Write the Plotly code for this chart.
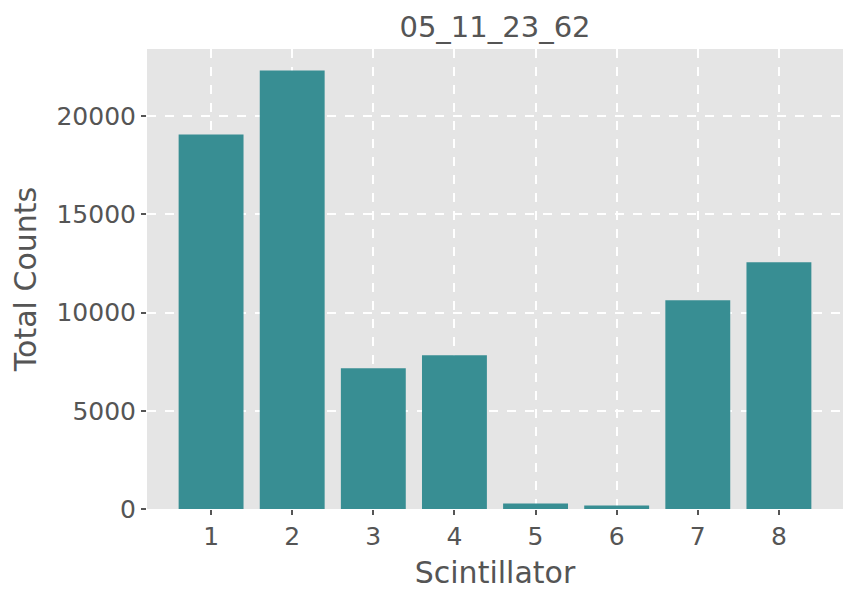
import plotly.graph_objects as go

scintillators = [1, 2, 3, 4, 5, 6, 7, 8]
total_counts = [19070, 22320, 7170, 7830, 280, 180, 10630, 12560]
y_ticks = [0, 5000, 10000, 15000, 20000]
y_tick_labels = ['0', '5000', '10000', '15000', '20000']

TEXT = '#555555'
FONT = 'DejaVu Sans'

fig = go.Figure(
    data=[
        go.Bar(
            x=scintillators,
            y=total_counts,
            width=0.8,
            marker_color='#388E93',
            marker_line_width=0,
        )
    ]
)

# page body has an 8px margin, so margins are shifted to compensate
fig.update_layout(
    width=858,
    height=601,
    margin=dict(l=139, r=23, t=41, b=100),
    paper_bgcolor='white',
    plot_bgcolor='#E5E5E5',
    font=dict(family=FONT, color=TEXT),
    showlegend=False,
    title=dict(
        text='05_11_23_62',
        font=dict(size=29, color=TEXT),
        x=0.5, xref='paper', xanchor='center',
        y=1 - 19 / 601, yref='container', yanchor='middle',
    ),
)

fig.update_xaxes(
    range=[0.21, 8.79],
    tickmode='array',
    tickvals=scintillators,
    ticks='outside', ticklen=5, tickwidth=1.5, tickcolor=TEXT,
    tickfont=dict(size=25, color=TEXT),
    showgrid=True, gridcolor='white', gridwidth=1.5, griddash='dash',
    zeroline=False, showline=False,
    title=dict(text='Scintillator', font=dict(size=30, color=TEXT), standoff=11),
)

fig.update_yaxes(
    range=[0, 23420],
    tickmode='array',
    tickvals=y_ticks,
    ticktext=y_tick_labels,
    ticks='outside', ticklen=5, tickwidth=1.5, tickcolor=TEXT,
    tickfont=dict(size=25, color=TEXT),
    showgrid=True, gridcolor='white', gridwidth=1.5, griddash='dash',
    zeroline=False, showline=False,
    title=dict(text='Total Counts', font=dict(size=30, color=TEXT), standoff=12),
)

fig.write_html("out.html")
